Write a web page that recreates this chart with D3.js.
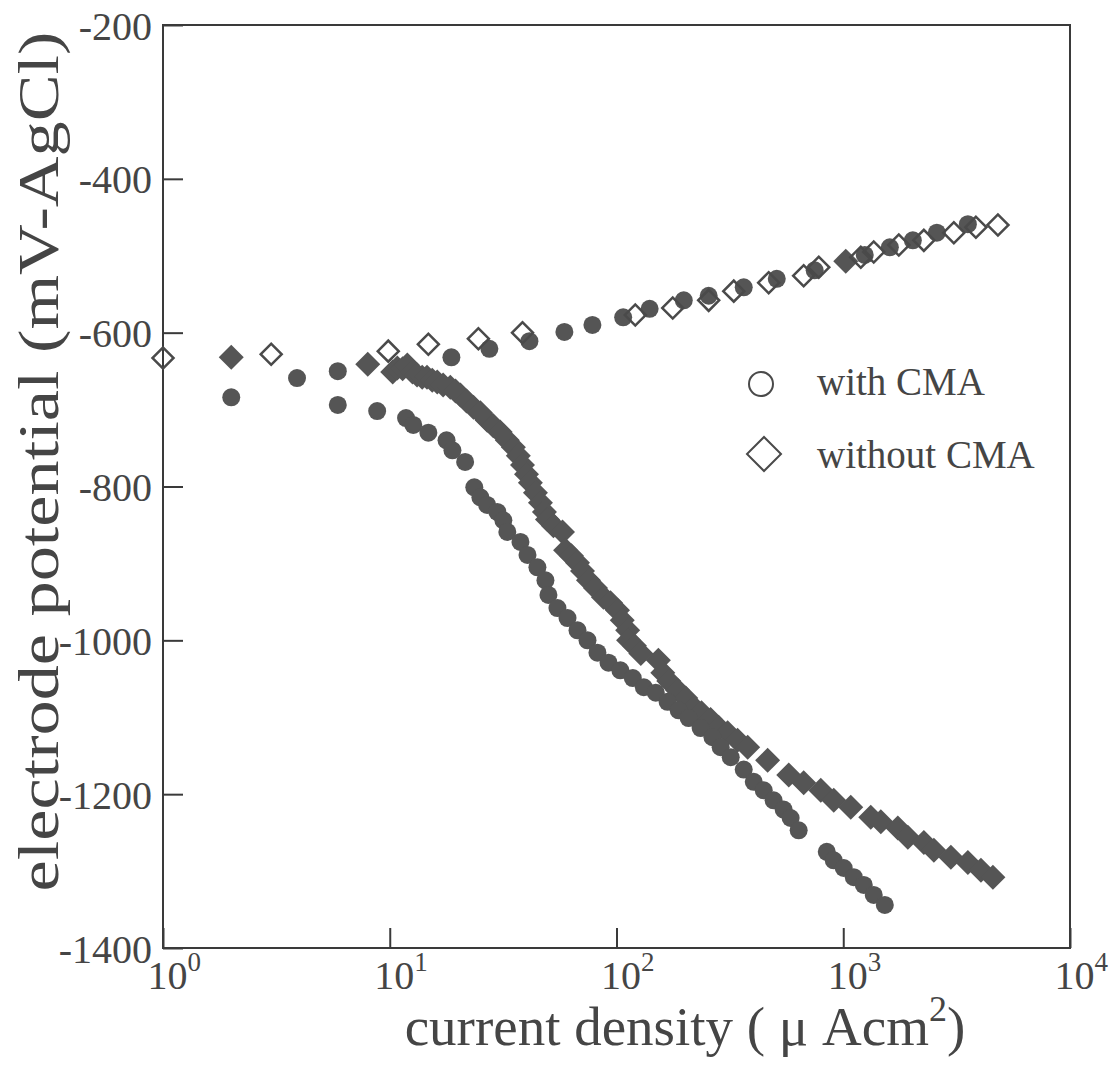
<!DOCTYPE html>
<html>
<head>
<meta charset="utf-8">
<script src="https://cdn.jsdelivr.net/npm/d3@7"></script>
<style>
  body { margin: 0; background: #fff; }
  svg text { font-family: "Liberation Serif", "Times New Roman", serif; fill: #454545; }
</style>
</head>
<body>
<svg id="chart" width="1113" height="1074"></svg>
<script>
// current density (uA/cm2), potential (mV vs AgCl)
const withCmaAnodic = [
  [3.9, -659], [5.9, -650], [18.7, -632], [27.5, -621], [41.3, -611], [58.9, -599],
  [78.3, -590], [107, -580], [140, -569], [198, -558], [255, -552], [364, -541],
  [509, -530], [748, -519], [1244, -499], [1605, -489], [2027, -480], [2587, -470],
  [3545, -459]
];
const withCmaCathodic = [
  [2.0, -684], [5.9, -694], [8.8, -702], [11.8, -711], [12.7, -720], [14.8, -730],
  [17.8, -740], [18.9, -753], [21.5, -768], [23.6, -801], [25.1, -814], [26.9, -824],
  [29.8, -833], [31.7, -844], [33.0, -859], [37.7, -872], [40.5, -889], [44.8, -905],
  [48.6, -922], [50.1, -941], [54.9, -958], [60.8, -971], [67.3, -987], [74.5, -1000],
  [82.4, -1016], [92.2, -1029], [104, -1039], [118, -1049], [132, -1061], [149, -1068],
  [168, -1080], [188, -1091], [208, -1101], [235, -1114], [265, -1126], [288, -1139],
  [319, -1152], [364, -1168], [403, -1184], [446, -1195], [493, -1208], [546, -1220],
  [586, -1231], [636, -1247],
  [846, -1275], [908, -1286], [1005, -1296], [1113, -1308], [1232, -1318], [1363, -1331],
  [1525, -1344]
];
const withoutCmaAnodic = [
  [1.0, -633], [3.0, -628], [9.85, -624], [14.8, -615], [24.6, -608], [38.5, -600],
  [121, -577], [177, -568], [255, -558], [329, -546], [469, -535], [669, -526],
  [780, -515], [1195, -502], [1363, -495], [1758, -486], [2267, -480], [3075, -470],
  [3846, -463], [4810, -460]
];
const withoutCmaCathodic = [
  [2.0, -632], [8.0, -641], [1026, -507],
  [10.3, -651], [10.8, -646], [11.4, -647], [11.95, -642], [12.6, -651], [13.2, -655],
  [13.9, -658], [14.6, -658], [15.4, -662], [16.2, -664], [17.2, -668], [18.5, -671],
  [19.5, -676], [20.5, -681], [21.8, -689], [23.4, -697], [25.1, -704], [26.9, -714],
  [28.6, -721], [30.7, -729], [33.0, -740], [35.1, -749], [36.9, -760], [38.5, -772],
  [40.1, -784], [41.7, -795], [43.9, -808], [46.2, -821], [48.1, -833], [49.6, -843],
  [52.7, -851], [57.8, -859], [59.6, -883], [63.3, -890], [67.3, -899], [70.8, -910],
  [75.2, -922], [80.8, -932], [87.6, -944], [94.1, -951], [101, -961], [106, -974],
  [112, -987], [113, -1000], [120, -1007], [128, -1017],
  [153, -1026], [160, -1042], [170, -1053], [186, -1065], [202, -1075], [219, -1087],
  [237, -1094], [260, -1103], [282, -1113], [309, -1120], [342, -1130], [379, -1139],
  [464, -1156], [575, -1175], [669, -1185], [796, -1195], [908, -1208],
  [1079, -1217], [1322, -1230], [1464, -1236], [1740, -1244], [1927, -1256], [2267, -1263],
  [2510, -1273], [2983, -1282], [3545, -1289], [4047, -1299], [4571, -1308]
];

const yTicks = [-200, -400, -600, -800, -1000, -1200, -1400];
const xTicks = [1, 10, 100, 1000, 10000];
const legendItems = ["with CMA", "without CMA"];

const svg = d3.select("#chart");
const margin = { top: 25, right: 43, bottom: 126, left: 163 };
const width = +svg.attr("width");
const height = +svg.attr("height");
const innerWidth = width - margin.left - margin.right;
const innerHeight = height - margin.top - margin.bottom;

const g = svg.append("g").attr("transform", `translate(${margin.left},${margin.top})`);

const x = d3.scaleLog().domain([1, 10000]).range([0, innerWidth]);
const y = d3.scaleLinear().domain([-1400, -200]).range([innerHeight, 0]);

const ink = "#555";

// frame
g.append("rect")
  .attr("width", innerWidth)
  .attr("height", innerHeight)
  .attr("fill", "none")
  .attr("stroke", "#3a3a3a")
  .attr("stroke-width", 2);

// y axis, ticks pointing in (plain hyphen as in the original)
const yAxis = g.append("g")
  .call(d3.axisLeft(y).tickValues(yTicks).tickSize(-20).tickPadding(11).tickFormat(d => String(d)));
yAxis.select(".domain").remove();
yAxis.selectAll("line").attr("stroke", "#3a3a3a").attr("stroke-width", 2);
yAxis.selectAll("text")
  .attr("font-size", 40)
  .attr("dy", "0.35em")
  .style("font-family", "Liberation Serif")
  .attr("fill", "#454545");

// x axis, ticks pointing in, labels as 10^n
const xAxis = g.append("g")
  .attr("transform", `translate(0,${innerHeight})`)
  .call(d3.axisBottom(x).tickValues(xTicks).tickSize(-20).tickFormat(""));
xAxis.select(".domain").remove();
xAxis.selectAll("line").attr("stroke", "#3a3a3a").attr("stroke-width", 2);
xAxis.selectAll(".tick").each(function (d) {
  const t = d3.select(this).append("text")
    .attr("y", 41)
    .attr("x", -16)
    .attr("text-anchor", "start")
    .attr("font-size", 40)
    .attr("fill", "#454545");
  t.append("tspan").text("10");
  t.append("tspan").attr("font-size", 27).attr("dy", -18).text(Math.round(Math.log10(d)));
});

// axis titles
g.append("text")
  .attr("transform", "rotate(-90)")
  .attr("x", -innerHeight / 2 + 25)
  .attr("y", -margin.left + 58)
  .attr("text-anchor", "middle")
  .attr("font-size", 56)
  .attr("textLength", 860)
  .attr("lengthAdjust", "spacingAndGlyphs")
  .text("electrode potential (mV-AgCl)");

const xt = g.append("text")
  .attr("x", 685 - margin.left)
  .attr("y", innerHeight + 97)
  .attr("text-anchor", "middle")
  .attr("font-size", 55);
xt.append("tspan").text("current density ( \u03bc Acm");
xt.append("tspan").attr("font-size", 36).attr("dy", -24).text("2");
xt.append("tspan").attr("dy", 24).text(")");

// markers
function drawDiamonds(data, half, filled) {
  g.append("g").selectAll("path")
    .data(data)
    .join("path")
    .attr("d", d3.symbol().type(d3.symbolSquare).size((half * Math.SQRT2) ** 2)())
    .attr("transform", d => `translate(${x(d[0])},${y(d[1])}) rotate(45)`)
    .attr("fill", filled ? ink : "none")
    .attr("stroke", filled ? "none" : "#4a4a4a")
    .attr("stroke-width", 2.5);
}
function drawCircles(data) {
  g.append("g").selectAll("circle")
    .data(data)
    .join("circle")
    .attr("cx", d => x(d[0]))
    .attr("cy", d => y(d[1]))
    .attr("r", 9)
    .attr("fill", ink);
}

drawDiamonds(withoutCmaCathodic, 12.5, true);
drawCircles(withCmaCathodic);
drawCircles(withCmaAnodic);
drawDiamonds(withoutCmaAnodic, 10.5, false);

// legend
const legend = svg.append("g");
legend.append("circle")
  .attr("cx", 761).attr("cy", 384).attr("r", 12)
  .attr("fill", "none").attr("stroke", "#4a4a4a").attr("stroke-width", 2);
legend.append("path")
  .attr("d", d3.symbol().type(d3.symbolSquare).size((17 * Math.SQRT2) ** 2)())
  .attr("transform", "translate(764,454) rotate(45)")
  .attr("fill", "none").attr("stroke", "#4a4a4a").attr("stroke-width", 2);
legend.selectAll("text")
  .data(legendItems)
  .join("text")
  .attr("x", 817)
  .attr("y", (d, i) => 395 + i * 73)
  .attr("font-size", 39)
  .text(d => d);
</script>
</body>
</html>
